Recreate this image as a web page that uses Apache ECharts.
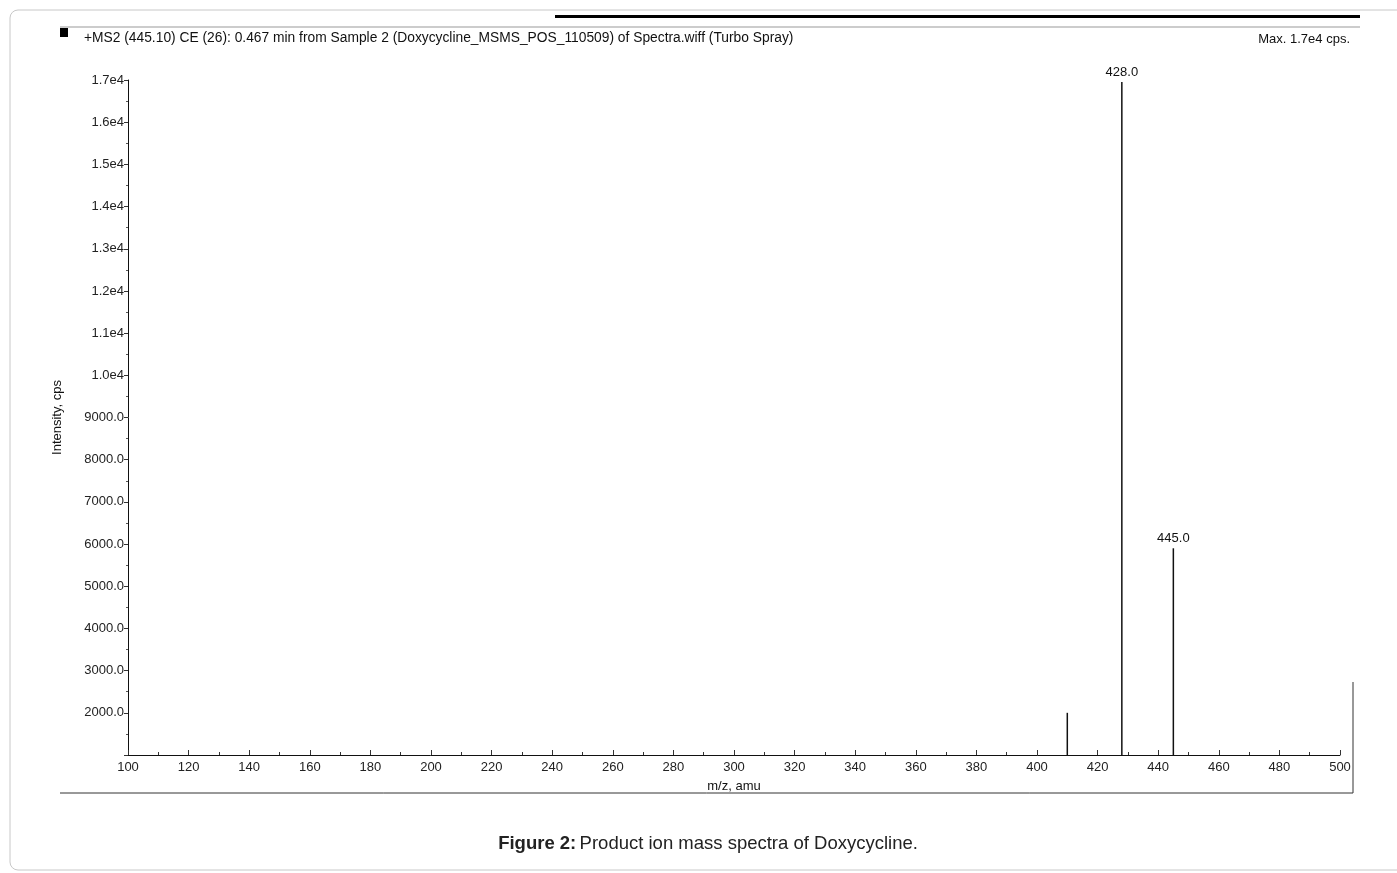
<!DOCTYPE html>
<html><head><meta charset="utf-8">
<script src="https://cdn.jsdelivr.net/npm/echarts@6/dist/echarts.min.js"></script>
<style>html,body{margin:0;padding:0;background:#fff}#c{width:1397px;height:873px}</style>
</head><body><div id="c"></div>
<script>
const peakMz = [410, 428, 445];
const peakIntensity = [2000, 16950, 5900];
const peakLabels = ['', '428.0', '445.0'];
const headerText = '+MS2 (445.10) CE (26): 0.467 min from Sample 2 (Doxycycline_MSMS_POS_110509) of Spectra.wiff (Turbo Spray)';
const maxText = 'Max. 1.7e4 cps.';
const xName = 'm/z, amu';
const yName = 'Intensity, cps';
const caption = 'Product ion mass spectra of Doxycycline.';
const captionBold = 'Figure 2:';

const chart = echarts.init(document.getElementById('c'), null, {renderer:'canvas'});
const FONT = 'Liberation Sans, Arial, sans-serif';
const data = peakMz.map((m,i)=>({value:[m, peakIntensity[i]], label:{show: !!peakLabels[i], formatter: peakLabels[i]}}));
chart.setOption({
  animation:false,
  backgroundColor:'#fff',
  grid:{left:128, top:80, width:1212, height:675, containLabel:false},
  xAxis:{type:'value', min:100, max:500, interval:20,
    name:xName, nameLocation:'middle', nameGap:25, nameTextStyle:{fontFamily:FONT,fontSize:13,color:'#111'},
    axisLine:{lineStyle:{color:'#111',width:1}},
    axisTick:{show:true, inside:true, length:5, lineStyle:{color:'#333'}},
    minorTick:{show:true, splitNumber:2, length:3, lineStyle:{color:'#333'}},
    axisLabel:{fontFamily:FONT, fontSize:13, color:'#222', margin:6},
    splitLine:{show:false}},
  yAxis:{type:'value', min:1000, max:17000, interval:1000,
    name:yName, nameLocation:'middle', nameGap:64, nameTextStyle:{fontFamily:FONT,fontSize:13,color:'#111'},
    axisLine:{lineStyle:{color:'#111',width:1}},
    axisTick:{show:true, length:4, lineStyle:{color:'#333'}},
    minorTick:{show:true, splitNumber:2, length:2, lineStyle:{color:'#555'}},
    axisLabel:{fontFamily:FONT, fontSize:13, color:'#222', margin:4, showMinLabel:false,
      formatter:v=> v>=10000 ? (v/10000).toFixed(1)+'e4' : v.toFixed(1)},
    splitLine:{show:false}},
  series:[{type:'bar', data:data, barWidth:1.5, itemStyle:{color:'#111'},
    label:{position:'top', distance:3, fontFamily:FONT, fontSize:13, color:'#111'}}],
  graphic:[
    {type:'rect', shape:{x:10,y:10,width:1400,height:860,r:8}, style:{fill:'none',stroke:'#c8c8c8',lineWidth:1}, silent:true},
    {type:'rect', shape:{x:555,y:15,width:805,height:3}, style:{fill:'#000'}},
    {type:'line', shape:{x1:60,y1:27,x2:1360,y2:27}, style:{stroke:'#999',lineWidth:1}},
    {type:'rect', shape:{x:60,y:28,width:8,height:9}, style:{fill:'#000'}},
    {type:'text', x:84, y:31, style:{text:headerText, font:'13.8px '+FONT, fill:'#111'}},
    {type:'text', x:1350, y:33, style:{text:maxText, font:'13px '+FONT, fill:'#111', align:'right'}},
    {type:'line', shape:{x1:60,y1:793,x2:1353,y2:793}, style:{stroke:'#333',lineWidth:1}},
    {type:'line', shape:{x1:1353,y1:682,x2:1353,y2:793}, style:{stroke:'#333',lineWidth:1}},
    {type:'text', x:708, y:844, style:{rich:{b:{font:'bold 18.5px '+FONT, fill:'#222'}, n:{font:'18.5px '+FONT, fill:'#222'}}, text:'{b|'+captionBold+'} {n|'+caption+'}', align:'center', verticalAlign:'middle'}}
  ]
});
</script></body></html>
